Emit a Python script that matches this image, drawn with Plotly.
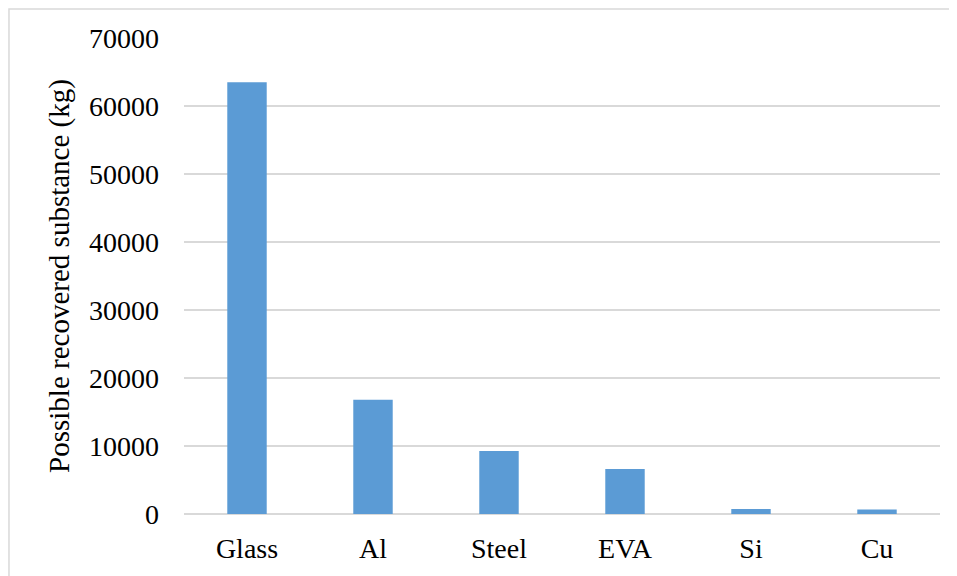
import plotly.graph_objects as go

categories = ["Glass", "Al", "Steel", "EVA", "Si", "Cu"]
values = [63500, 16800, 9250, 6600, 750, 650]
y_ticks = [0, 10000, 20000, 30000, 40000, 50000, 60000, 70000]

FONT = "Times New Roman, Liberation Serif, serif"

fig = go.Figure()
fig.add_trace(go.Bar(x=categories, y=values, marker=dict(color="#5b9bd5", line=dict(width=0))))

fig.update_layout(
    width=949, height=568,
    margin=dict(l=176, r=17, t=30, b=59),
    paper_bgcolor="white", plot_bgcolor="white",
    bargap=0.687,
    showlegend=False,
    font=dict(family=FONT, color="black", size=28),
    xaxis=dict(showgrid=False, showline=False, zeroline=False, ticks="",
               tickfont=dict(family=FONT, size=28), ticklabelstandoff=15),
    yaxis=dict(range=[0, 70000], tickvals=y_ticks, ticktext=[str(v) for v in y_ticks],
               showgrid=True, gridcolor="#d9d9d9", gridwidth=1.5,
               zeroline=True, zerolinecolor="#d9d9d9", zerolinewidth=1.5,
               showline=False, ticks="", tickfont=dict(family=FONT, size=28), ticklabelstandoff=24,
               title=dict(text="Possible recovered substance (kg)", font=dict(family=FONT, size=29), standoff=10)),
    shapes=[dict(type="rect", xref="paper", yref="paper",
                 x0=-0.2315, x1=1.2, y0=-0.3, y1=1.061,
                 line=dict(color="#d9d9d9", width=1.5), fillcolor="rgba(0,0,0,0)", layer="below")],
)

fig.write_html("out.html")
